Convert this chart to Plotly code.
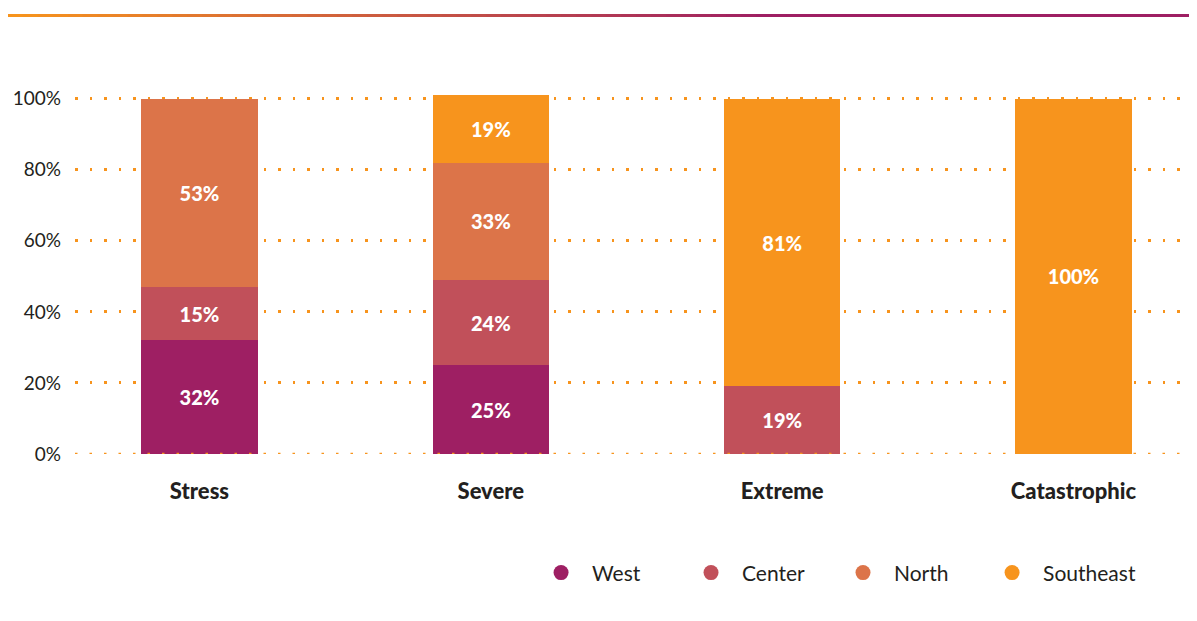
import plotly.graph_objects as go

# scenarios and regional share (%)
scenarios = ['Stress', 'Severe', 'Extreme', 'Catastrophic']
west = [32, 25, 0, 0]
center = [15, 24, 19, 0]
north = [53, 33, 0, 0]
southeast = [0, 19, 81, 100]

regions = ['West', 'Center', 'North', 'Southeast']
colors = ['#9E1F63', '#C1505A', '#DC7449', '#F7941D']
values = [west, center, north, southeast]

FONT = 'Lato'
legend_ids = ['legend', 'legend2', 'legend3', 'legend4']
legend_x = [0.4063, 0.5402, 0.6759, 0.8090]

fig = go.Figure()
for name, col, vals, lg in zip(regions, colors, values, legend_ids):
	fig.add_trace(go.Bar(
		x=scenarios,
		y=[v if v > 0 else None for v in vals],
		name=name,
		marker=dict(color=col, line=dict(width=0)),
		width=0.4,
		text=[f'{v}%' if v > 0 else '' for v in vals],
		textposition='inside',
		insidetextanchor='middle',
		textfont=dict(family=FONT, size=20, color='white', weight=900),
		showlegend=False,
		hoverinfo='skip',
	))
	# legend entries with round markers
	fig.add_trace(go.Scatter(
		x=[None], y=[None], mode='markers', name=name, legend=lg,
		marker=dict(color=col, size=15, symbol='circle'),
	))

# gradient rule at top of the page
def mix(c1, c2, t):
	a = [int(c1[i:i+2], 16) for i in (1, 3, 5)]
	b = [int(c2[i:i+2], 16) for i in (1, 3, 5)]
	return 'rgb(%d,%d,%d)' % tuple(round(a[k] + (b[k]-a[k])*t) for k in range(3))

L, PW, B, PH = 67, 1120, 446, 366
shapes = []
n = 80
x0p, x1p = -L/PW, (1197-L)/PW
for i in range(n):
	f0 = i/n
	f1 = (i+1)/n
	t = min(1, (f0*1197)/750)
	shapes.append(dict(type='rect', xref='paper', yref='paper',
		x0=x0p + (x1p-x0p)*f0, x1=x0p + (x1p-x0p)*f1 + 0.001,
		y0=(B-6)/PH, y1=(B-9)/PH,
		line=dict(width=0), fillcolor=mix('#F7941D', '#9E1F63', t), layer='above'))
# dotted baseline drawn over the bars
shapes.append(dict(type='line', xref='paper', yref='y', x0=0, x1=1, y0=0, y1=0,
	line=dict(color='#F7941D', width=2.5, dash='2.5px,12px'), layer='above'))

legends = {}
for lg, lx in zip(legend_ids, legend_x):
	legends[lg] = dict(
		orientation='h', x=lx, xanchor='left', y=-0.325, yanchor='middle',
		font=dict(family=FONT, size=21, color='#231F20'),
		itemwidth=52, bgcolor='rgba(0,0,0,0)',
	)

fig.update_layout(
	barmode='stack',
	width=1197, height=621,
	margin=dict(l=L, r=1197-L-PW, t=B-PH, b=621-B),
	plot_bgcolor='white', paper_bgcolor='white',
	font=dict(family=FONT, color='#231F20'),
	shapes=shapes,
	uniformtext=dict(mode='show', minsize=10),
	xaxis=dict(
		range=[-0.4273, 3.4171], automargin=False,
		showgrid=False, zeroline=False, showline=False,
		tickfont=dict(family=FONT, size=22, color='#231F20', weight=900),
		ticks='outside', ticklen=0, ticklabelstandoff=18,
	),
	yaxis=dict(
		range=[0, 103], automargin=False,
		tickvals=[0, 20, 40, 60, 80, 100],
		ticktext=['0%', '20%', '40%', '60%', '80%', '100%'],
		showgrid=True, gridcolor='#F7941D', gridwidth=2.5, griddash='2.5px,12px',
		zeroline=False, showline=False,
		tickfont=dict(family=FONT, size=19, color='#231F20'),
		ticklabelstandoff=13,
	),
	**legends,
)

fig.write_html('out.html')
